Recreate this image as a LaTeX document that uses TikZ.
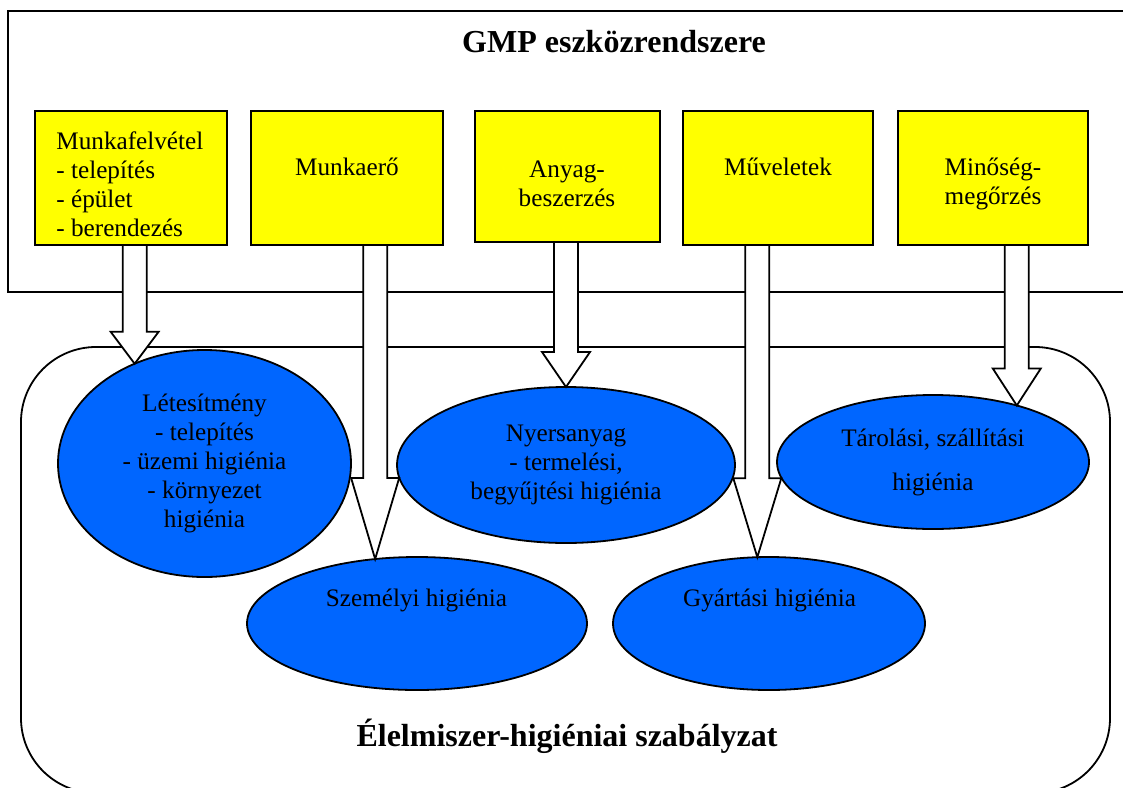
\documentclass[tikz,border=0pt]{standalone}
\usepackage{fontspec}
\setmainfont{Liberation Serif}
\usetikzlibrary{calc,shapes.geometric}

\definecolor{gmpyellow}{RGB}{255,255,0}
\definecolor{hygblue}{RGB}{0,102,255}

\newcommand{\bodyfont}{\fontsize{12.6pt}{14.5pt}\selectfont}
\newcommand{\titlefont}{\bfseries\fontsize{16pt}{19pt}\selectfont}

\tikzset{
	frame/.style={draw, line width=0.9pt},
	gmpbox/.style={draw, line width=0.9pt, fill=gmpyellow, inner sep=0pt, outer sep=0pt, minimum width=96pt, minimum height=67pt},
	hygell/.style={ellipse, draw, line width=0.9pt, fill=hygblue, inner sep=0pt, outer sep=0pt, align=center, font=\bodyfont},
	txt/.style={inner sep=0pt, font=\bodyfont},
	bigtitle/.style={inner sep=0pt, font=\titlefont},
	blockarrow/.style={draw, fill=white, line width=0.9pt, line join=miter}
}

% block arrow from a box down to a point on an ellipse, #3 = head length
\newcommand{\gmparrow}[3]{%
	\draw[blockarrow] let \p1=(#1.south), \p2=(#2) in
		(\x2-6pt,\y1) -- (\x2-6pt,\y2+#3) -- (\x2-12pt,\y2+#3) -- (\p2)
		-- (\x2+12pt,\y2+#3) -- (\x2+6pt,\y2+#3) -- (\x2+6pt,\y1) -- cycle;}

\begin{document}
\begin{tikzpicture}[x=0.5pt, y=-0.5pt]
				\useasboundingbox (0,0) rectangle (1123,787);

				% GMP frame (open to the right)
				\draw[frame] (1140,11) -- (8,11) -- (8,292) -- (1140,292);
				\node[bigtitle, anchor=base] (gmptitle) at (614,52) {GMP eszközrendszere};

				% Hygiene frame
				\draw[frame, rounded corners=37.5pt] (21,347) rectangle (1110,793);
				\node[bigtitle, anchor=base] (elmtitle) at (567,746) {Élelmiszer-higiéniai szabályzat};

				% GMP tools
				\node[gmpbox] (m1) at (131,178) {};
				\node[gmpbox] (m2) at (347,178) {};
				\node[gmpbox, minimum width=92.5pt, minimum height=65.5pt] (m3) at (567.5,176.5) {};
				\node[gmpbox, minimum width=95pt] (m4) at (778,178) {};
				\node[gmpbox, minimum width=95pt] (m5) at (993,178) {};

				\node[txt, align=left, anchor=west] (m1t) at (56,184) {Munkafelvétel\\- telepítés\\- épület\\- berendezés};
				\node[txt, anchor=base] (m2t) at (347,175.7) {Munkaerő};
				\node[txt, align=center] (m3t) at (567,184) {Anyag-\\beszerzés};
				\node[txt, anchor=base] (m4t) at (778,175.7) {Műveletek};
				\node[txt, align=center] (m5t) at (993,184) {Minőség-\\megőrzés};

				% Hygiene areas
				\node[hygell, minimum width=146.5pt, minimum height=113.5pt] (let1) at (204.5,463.5)
					{Létesítmény\\- telepítés\\- üzemi higiénia\\- környezet\\higiénia};
				\node[hygell, minimum width=169pt, minimum height=78pt] (nyers) at (566,465)
					{Nyersanyag\\- termelési,\\begyűjtési higiénia};
				\node[hygell, minimum width=156pt, minimum height=67pt] (taro) at (933,462)
					{Tárolási, szállítási\\[7.5pt]higiénia};
				\node[hygell, minimum width=170pt, minimum height=66.5pt] (szem) at (417,623.5) {};
				\node[hygell, minimum width=156pt, minimum height=66.5pt] (gyart) at (769,623.5) {};
				\node[txt, anchor=base] (szemt) at (416.5,606.7) {Személyi higiénia};
				\node[txt, anchor=base] (gyartt) at (769.5,606.7) {Gyártási higiénia};

				% Arrows
				\gmparrow{m1}{let1.125}{16pt}
				\gmparrow{m2}{szem.123}{40.5pt}
				\gmparrow{m3}{nyers.north}{17.5pt}
				\gmparrow{m4}{gyart.100}{39.5pt}
				\gmparrow{m5}{taro.34}{18.5pt}
			\end{tikzpicture}
\end{document}
